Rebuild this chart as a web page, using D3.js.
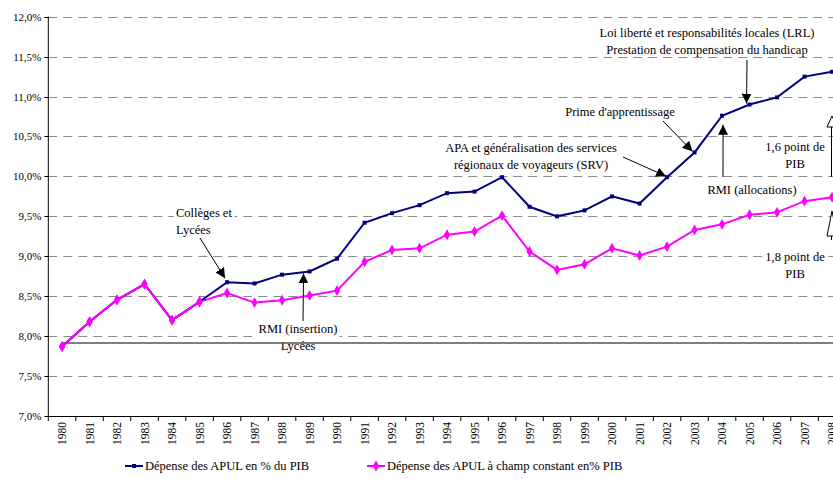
<!DOCTYPE html>
<html lang="fr">
<head>
<meta charset="utf-8">
<title>APUL</title>
<script src="https://d3js.org/d3.v7.min.js"></script>
<style>
  body { margin: 0; background: #fff; }
  text { font-family: "Liberation Serif", "Times New Roman", serif; fill: #000; }
  .grid line { stroke: #8c8c8c; stroke-dasharray: 9,6; }
  .ann { font-size: 12.5px; }
</style>
</head>
<body>
<div id="chart"></div>
<script>

// data
var years = d3.range(1980, 2009);
var apul = [7.87, 8.18, 8.455, 8.65, 8.20, 8.43, 8.675, 8.66, 8.77, 8.81, 8.97, 9.42, 9.54, 9.64,
            9.79, 9.81, 9.99, 9.62, 9.50, 9.575, 9.75, 9.66, 9.99, 10.30, 10.76, 10.90, 10.99, 11.25, 11.31];
var apulConstant = [7.87, 8.18, 8.455, 8.65, 8.20, 8.43, 8.54, 8.42, 8.45, 8.51, 8.57, 8.93, 9.08, 9.10,
            9.27, 9.31, 9.51, 9.06, 8.83, 8.90, 9.10, 9.01, 9.12, 9.33, 9.40, 9.52, 9.55, 9.69, 9.74];
var yTicks = [7, 7.5, 8, 8.5, 9, 9.5, 10, 10.5, 11, 11.5, 12];
var baseLevel = 7.915;
var seriesNames = ["Dépense des APUL en % du PIB", "Dépense des APUL à champ constant en% PIB"];

var width = 833, height = 479;
var plotLeft = 48.3, plotTop = 16.7, plotBottom = 416, step = 27.5;

var x = d3.scaleBand()
    .domain(years)
    .range([plotLeft, plotLeft + step * years.length]);

var y = d3.scaleLinear()
    .domain([7, 12])
    .range([plotBottom, plotTop]);

var svg = d3.select("#chart").append("svg")
    .attr("width", width)
    .attr("height", height);

function cx(yr) { return x(yr) + x.bandwidth() / 2; }

// dashed gridlines
svg.append("g").attr("class", "grid")
    .selectAll("line")
    .data(yTicks.slice(1))
    .enter().append("line")
    .attr("x1", plotLeft).attr("x2", width)
    .attr("y1", function(d) { return Math.round(y(d)) + 0.5; })
    .attr("y2", function(d) { return Math.round(y(d)) + 0.5; });

// annotations (text with white box behind)
var annotations = [
  {lines: ["Collèges et", "Lycées"], x: 176, y: 217, anchor: "start"},
  {lines: ["RMI (insertion)", "Lycées"], x: 298, y: 333, anchor: "middle"},
  {lines: ["APA et généralisation des services", "régionaux de voyageurs (SRV)"], x: 531, y: 152, anchor: "middle"},
  {lines: ["Prime d'apprentissage"], x: 620, y: 116, anchor: "middle"},
  {lines: ["Loi liberté et responsabilités locales (LRL)", "Prestation de compensation du handicap"], x: 707, y: 37, anchor: "middle"},
  {lines: ["RMI (allocations)"], x: 752, y: 194, anchor: "middle"},
  {lines: ["1,6 point de", "PIB"], x: 795, y: 151, anchor: "middle"},
  {lines: ["1,8 point de", "PIB"], x: 795, y: 261, anchor: "middle"}
];

var annG = svg.append("g");
annotations.forEach(function(a) {
  var g = annG.append("g");
  var bg = g.append("rect").attr("fill", "#fff");
  var t = g.append("text").attr("class", "ann").attr("text-anchor", a.anchor);
  a.lines.forEach(function(l, i) {
    t.append("tspan").attr("x", a.x).attr("y", a.y + i * 17).text(l);
  });
  var bb = t.node().getBBox();
  bg.attr("x", bb.x - 2).attr("y", bb.y).attr("width", bb.width + 4).attr("height", bb.height);
});

// reference line at 1980 level
svg.append("line")
    .attr("x1", cx(1980)).attr("x2", width)
    .attr("y1", y(baseLevel)).attr("y2", y(baseLevel))
    .attr("stroke", "#555").attr("stroke-width", 1.5);

// axes
svg.append("line")
    .attr("x1", plotLeft).attr("x2", plotLeft).attr("y1", plotTop).attr("y2", plotBottom)
    .attr("stroke", "#000");
svg.append("line")
    .attr("x1", plotLeft).attr("x2", width).attr("y1", plotBottom + 0.5).attr("y2", plotBottom + 0.5)
    .attr("stroke", "#000");

svg.selectAll(".ytick")
    .data(yTicks)
    .enter().append("line")
    .attr("x1", plotLeft - 4).attr("x2", plotLeft)
    .attr("y1", function(d) { return Math.round(y(d)) + 0.5; })
    .attr("y2", function(d) { return Math.round(y(d)) + 0.5; })
    .attr("stroke", "#000");

svg.selectAll(".ylabel")
    .data(yTicks)
    .enter().append("text")
    .attr("x", plotLeft - 7)
    .attr("y", function(d) { return y(d) + 4; })
    .attr("text-anchor", "end")
    .style("font-size", "11px")
    .text(function(d) { return d3.format(".1f")(d).replace(".", ",") + "%"; });

svg.selectAll(".xtick")
    .data(years)
    .enter().append("line")
    .attr("x1", function(d) { return x(d); })
    .attr("x2", function(d) { return x(d); })
    .attr("y1", plotBottom).attr("y2", plotBottom + 5)
    .attr("stroke", "#000");

svg.selectAll(".xlabel")
    .data(years)
    .enter().append("text")
    .attr("transform", function(d) { return "translate(" + (cx(d) + 4) + "," + (plotBottom + 6) + ") rotate(-90)"; })
    .attr("text-anchor", "end")
    .style("font-size", "11.5px")
    .text(function(d) { return d; });

// series
var line = d3.line()
    .x(function(d, i) { return cx(years[i]); })
    .y(function(d) { return y(d); });

svg.append("path")
    .datum(apulConstant)
    .attr("d", line)
    .attr("fill", "none").attr("stroke", "#ff00ff").attr("stroke-width", 2);

var diamond = d3.symbol().type(d3.symbolDiamond).size(34);
svg.selectAll(".mag")
    .data(apulConstant)
    .enter().append("path")
    .attr("d", diamond)
    .attr("transform", function(d, i) { return "translate(" + cx(years[i]) + "," + y(d) + ")"; })
    .attr("fill", "#ff00ff");

svg.append("path")
    .datum(apul)
    .attr("d", line)
    .attr("fill", "none").attr("stroke", "#000080").attr("stroke-width", 2);

svg.selectAll(".blu")
    .data(apul)
    .enter().append("rect")
    .attr("x", function(d, i) { return cx(years[i]) - 2; })
    .attr("y", function(d) { return y(d) - 2; })
    .attr("width", 4).attr("height", 4)
    .attr("fill", "#000080");

// magenta covers blue where they coincide (1980-1985)
svg.append("path")
    .datum(apulConstant.slice(0, 6))
    .attr("d", line)
    .attr("fill", "none").attr("stroke", "#ff00ff").attr("stroke-width", 2);
svg.selectAll(".mag2")
    .data(apulConstant.slice(0, 6))
    .enter().append("path")
    .attr("d", diamond)
    .attr("transform", function(d, i) { return "translate(" + cx(years[i]) + "," + y(d) + ")"; })
    .attr("fill", "#ff00ff");

// arrows
var defs = svg.append("defs");
defs.append("marker")
    .attr("id", "head")
    .attr("viewBox", "0 0 10 10")
    .attr("refX", 10).attr("refY", 5)
    .attr("markerWidth", 10).attr("markerHeight", 10)
    .attr("markerUnits", "userSpaceOnUse")
    .attr("orient", "auto")
    .append("path").attr("d", "M0,0L10,5L0,10z").attr("fill", "#000");

var arrows = [
  {x1: 200, y1: 238, yr: 1986, v: apul[6], dx: -2, dy: -4},
  {x1: 303, y1: 321, yr: 1989, v: apul[9], dx: -6, dy: 2},
  {x1: 623, y1: 157, yr: 2002, v: apul[22], dx: -1, dy: -1},
  {x1: 663, y1: 121, yr: 2003, v: apul[23], dx: -2, dy: -1},
  {x1: 747, y1: 60, yr: 2005, v: apul[25], dx: -3, dy: -1},
  {x1: 723, y1: 177, yr: 2004, v: apul[24], dx: 1, dy: 9}
];

svg.selectAll(".arrow")
    .data(arrows)
    .enter().append("line")
    .attr("x1", function(d) { return d.x1; })
    .attr("y1", function(d) { return d.y1; })
    .attr("x2", function(d) { return cx(d.yr) + d.dx; })
    .attr("y2", function(d) { return y(d.v) + d.dy; })
    .attr("stroke", "#000").attr("stroke-width", 1)
    .attr("marker-end", "url(#head)");

// gap brackets at right edge
var gaps = [
  {top: 116, base: 127, end: 177},
  {top: 211, base: 236, end: 240}
];
gaps.forEach(function(g) {
  svg.append("path")
    .attr("d", "M827," + g.base + "L832," + g.top + "L837," + g.base + "Z")
    .attr("fill", "#fff").attr("stroke", "#000");
  svg.append("line")
    .attr("x1", 831.5).attr("x2", 831.5).attr("y1", g.base).attr("y2", g.end)
    .attr("stroke", "#000");
});

// legend
var legend = [
  {name: seriesNames[0], color: "#000080", x: 125},
  {name: seriesNames[1], color: "#ff00ff", x: 367}
];
var lg = svg.selectAll(".legend")
    .data(legend)
    .enter().append("g")
    .attr("transform", function(d) { return "translate(" + d.x + ",466)"; });
lg.append("line")
    .attr("x1", 0).attr("x2", 18)
    .attr("stroke", function(d) { return d.color; }).attr("stroke-width", 2);
lg.append("path")
    .attr("transform", "translate(9,0)")
    .attr("d", function(d, i) { return i === 0 ? "M-2,-2h4v4h-4z" : diamond(); })
    .attr("fill", function(d) { return d.color; });
lg.append("text")
    .attr("x", 20).attr("y", 4)
    .style("font-size", "12.5px")
    .text(function(d) { return d.name; });

</script>
</body>
</html>
